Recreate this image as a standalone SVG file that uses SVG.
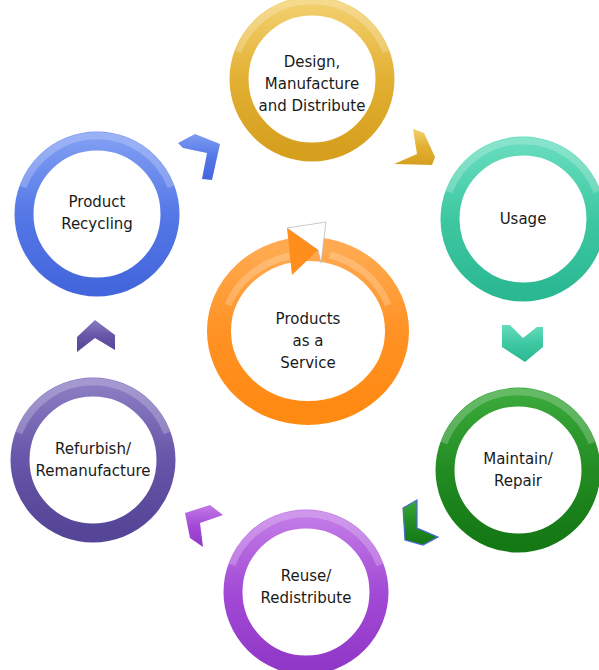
<svg xmlns="http://www.w3.org/2000/svg" width="599" height="670" viewBox="0 0 599 670">
<defs>
<style>
.lbl{font-family:"DejaVu Sans","Verdana",sans-serif;font-size:15px;fill:#1a1a1a;text-anchor:middle}
.ring{fill:none;stroke-width:19}
.gloss{fill:none;stroke:#fff;stroke-opacity:.22;stroke-width:7}
.inner{fill:#fff;stroke:#fff;stroke-opacity:.6;stroke-width:1.5}
</style>
<linearGradient id="gGold" x1="0" y1="0" x2="0" y2="1"><stop offset="0" stop-color="#f2cf6c"/><stop offset=".5" stop-color="#e2b033"/><stop offset="1" stop-color="#d69f1e"/></linearGradient>
<linearGradient id="gTeal" x1="0" y1="0" x2="0" y2="1"><stop offset="0" stop-color="#66dcbd"/><stop offset=".5" stop-color="#3ec8a2"/><stop offset="1" stop-color="#2ab892"/></linearGradient>
<linearGradient id="gGreen" x1="0" y1="0" x2="0" y2="1"><stop offset="0" stop-color="#3aa83a"/><stop offset=".5" stop-color="#228c22"/><stop offset="1" stop-color="#147814"/></linearGradient>
<linearGradient id="gPurple" x1="0" y1="0" x2="0" y2="1"><stop offset="0" stop-color="#c27ae6"/><stop offset=".5" stop-color="#a24ad6"/><stop offset="1" stop-color="#9238c8"/></linearGradient>
<linearGradient id="gIndigo" x1="0" y1="0" x2="0" y2="1"><stop offset="0" stop-color="#8a7cc2"/><stop offset=".5" stop-color="#6655a8"/><stop offset="1" stop-color="#554596"/></linearGradient>
<linearGradient id="gBlue" x1="0" y1="0" x2="0" y2="1"><stop offset="0" stop-color="#7e9cf2"/><stop offset=".5" stop-color="#5578e6"/><stop offset="1" stop-color="#4466dc"/></linearGradient>
<linearGradient id="gOrange" x1="0" y1="0" x2="0" y2="1"><stop offset="0" stop-color="#ffaa50"/><stop offset=".5" stop-color="#ff9224"/><stop offset="1" stop-color="#ff8a12"/></linearGradient>
<path id="glossArc" d="M-74,-27 A79,79 0 0 1 74,-27"/>
</defs>
<g id="connectors">
<polygon points="178,143 195,134 220,144 212,180 202,179 207,153 183,148" fill="url(#gBlue)"/>
<polygon points="413,129 424,133 435,157 432,165 394,164 417,154" fill="url(#gGold)"/>
<polygon points="502,325 510,325 523,338 537,327 543,327 543,347 525,362 502,347" fill="url(#gTeal)"/>
<polygon points="417,500 403,508 405,540 423,545 438,537 417,528" fill="url(#gGreen)" stroke="#4a6ad8" stroke-width="1.2"/>
<polygon points="210,505 185,513 190,538 203,547 200,523 223,515" fill="url(#gPurple)"/>
<polygon points="77,337 95,320 115,335 115,350 95,338 77,352" fill="url(#gIndigo)"/>
</g>
<g id="design" transform="translate(312,79)">
<circle class="inner" r="63"/>
<circle class="ring" r="73" stroke="url(#gGold)"/>
<use href="#glossArc" class="gloss"/>
<text class="lbl" y="-12">Design,</text>
<text class="lbl" y="10">Manufacture</text>
<text class="lbl" y="32">and Distribute</text>
</g>
<g id="usage" transform="translate(523,219)">
<circle class="inner" r="63"/>
<circle class="ring" r="73" stroke="url(#gTeal)"/>
<use href="#glossArc" class="gloss"/>
<text class="lbl" y="5">Usage</text>
</g>
<g id="maintain" transform="translate(518,470)">
<circle class="inner" r="63"/>
<circle class="ring" r="73" stroke="url(#gGreen)"/>
<use href="#glossArc" class="gloss"/>
<text class="lbl" y="-6">Maintain/</text>
<text class="lbl" y="16">Repair</text>
</g>
<g id="reuse" transform="translate(306,592)">
<circle class="inner" r="63"/>
<circle class="ring" r="73" stroke="url(#gPurple)"/>
<use href="#glossArc" class="gloss"/>
<text class="lbl" y="-11">Reuse/</text>
<text class="lbl" y="11">Redistribute</text>
</g>
<g id="refurbish" transform="translate(93,460)">
<circle class="inner" r="63"/>
<circle class="ring" r="73" stroke="url(#gIndigo)"/>
<use href="#glossArc" class="gloss"/>
<text class="lbl" y="-6">Refurbish/</text>
<text class="lbl" y="16">Remanufacture</text>
</g>
<g id="recycling" transform="translate(97,214)">
<circle class="inner" r="63"/>
<circle class="ring" r="73" stroke="url(#gBlue)"/>
<use href="#glossArc" class="gloss"/>
<text class="lbl" y="-7">Product</text>
<text class="lbl" y="15">Recycling</text>
</g>
<g id="paas">
<ellipse cx="308" cy="331" rx="77" ry="70" fill="#fff"/>
<ellipse cx="308" cy="331" rx="89" ry="82" fill="none" stroke="url(#gOrange)" stroke-width="24"/>
<path d="M228,305 A86,79 0 0 1 290,256" fill="none" stroke="#fff" stroke-opacity=".22" stroke-width="7"/>
<path d="M330,255 A86,79 0 0 1 388,305" fill="none" stroke="#fff" stroke-opacity=".22" stroke-width="7"/>
<polygon points="287,228 326,222 321,263 318,250" fill="#fff" stroke="#bbb" stroke-width=".8"/>
<polygon points="287,228 318,250 292,275" fill="#ff8e1c"/>
<text class="lbl" x="308" y="324">Products</text>
<text class="lbl" x="308" y="346">as a</text>
<text class="lbl" x="308" y="368">Service</text>
</g>
</svg>
